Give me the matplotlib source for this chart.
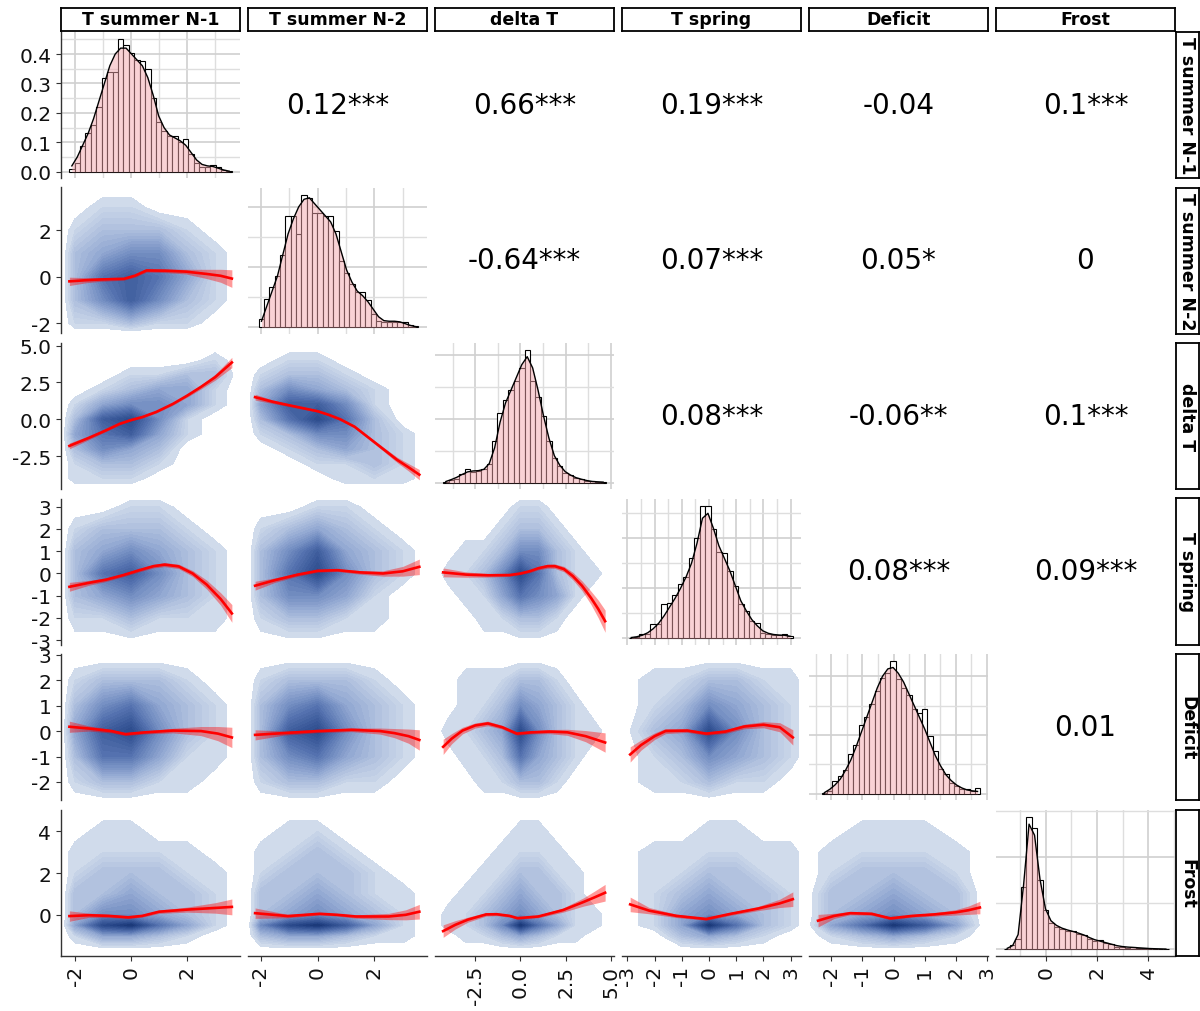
import numpy as np
import matplotlib
matplotlib.use('Agg')
import matplotlib.pyplot as plt
from matplotlib.colors import LinearSegmentedColormap, Normalize
from matplotlib.ticker import AutoMinorLocator

# ---- variables / axes ----
names = ['T summer N-1', 'T summer N-2', 'delta T', 'T spring', 'Deficit', 'Frost']
lims = [(-2.5, 3.89), (-2.45, 3.85), (-4.72, 5.17), (-3.2, 3.38), (-2.71, 3.03), (-1.95, 5.05)]
ticks = [[-2, 0, 2], [-2, 0, 2], [-2.5, 0, 2.5, 5], [-3, -2, -1, 0, 1, 2, 3],
         [-2, -1, 0, 1, 2, 3], [0, 2, 4]]
tick_labels = [['-2', '0', '2'], ['-2', '0', '2'], ['-2.5', '0.0', '2.5', '5.0'],
               ['-3', '-2', '-1', '0', '1', '2', '3'], ['-2', '-1', '0', '1', '2', '3'],
               ['0', '2', '4']]
dens_ticks = [0.0, 0.1, 0.2, 0.3, 0.4]
dens_tick_labels = ['0.0', '0.1', '0.2', '0.3', '0.4']

# ---- diagonal histograms (density) and density curves ----
hist_range = [(-2.21, 3.6), (-2.07, 3.55), (-4.27, 4.72), (-2.96, 3.08), (-2.3, 2.78), (-1.62, 4.8)]
hist_ts1 = [0.009, 0.03, 0.088, 0.13, 0.16, 0.22, 0.32, 0.34, 0.34, 0.45, 0.43, 0.405, 0.38, 0.375, 0.35,
            0.25, 0.17, 0.14, 0.12, 0.12, 0.10, 0.113, 0.06, 0.03, 0.017, 0.017, 0.024, 0.015, 0.007, 0.002]
dens_ts1 = [0.02, 0.05, 0.09, 0.13, 0.18, 0.24, 0.30, 0.36, 0.40, 0.42, 0.42, 0.40, 0.38, 0.36, 0.32,
            0.26, 0.19, 0.15, 0.125, 0.115, 0.105, 0.09, 0.065, 0.04, 0.025, 0.02, 0.018, 0.012, 0.006, 0.002]
hist_ts2 = [0.028, 0.094, 0.133, 0.17, 0.24, 0.37, 0.37, 0.31, 0.44, 0.43, 0.38, 0.38, 0.37, 0.37, 0.32,
            0.22, 0.18, 0.144, 0.117, 0.117, 0.09, 0.044, 0.022, 0.019, 0.019, 0.019, 0.019, 0.017, 0.008, 0.003]
dens_ts2 = [0.02, 0.07, 0.12, 0.17, 0.24, 0.31, 0.36, 0.40, 0.425, 0.43, 0.41, 0.39, 0.37, 0.35, 0.31,
            0.25, 0.19, 0.15, 0.12, 0.105, 0.085, 0.06, 0.035, 0.022, 0.02, 0.02, 0.018, 0.012, 0.006, 0.002]
hist_dt = [0.003, 0.01, 0.012, 0.029, 0.042, 0.033, 0.036, 0.044, 0.06, 0.13, 0.22, 0.26, 0.29, 0.32, 0.36,
           0.415, 0.32, 0.27, 0.21, 0.13, 0.078, 0.054, 0.031, 0.025, 0.016, 0.0125, 0.005, 0.004, 0.003, 0.002]
dens_dt = [0.004, 0.01, 0.017, 0.026, 0.034, 0.037, 0.038, 0.042, 0.06, 0.11, 0.19, 0.25, 0.29, 0.33, 0.37,
           0.395, 0.36, 0.29, 0.21, 0.14, 0.085, 0.055, 0.035, 0.024, 0.016, 0.011, 0.007, 0.004, 0.003, 0.002]
hist_tsp = [0.003, 0.005, 0.016, 0.019, 0.056, 0.056, 0.136, 0.143, 0.172, 0.219, 0.247, 0.32, 0.4, 0.53, 0.53,
            0.436, 0.345, 0.343, 0.27, 0.209, 0.139, 0.109, 0.069, 0.063, 0.023, 0.019, 0.012, 0.012, 0.019, 0.009]
dens_tsp = [0.003, 0.006, 0.012, 0.022, 0.038, 0.06, 0.09, 0.125, 0.16, 0.2, 0.245, 0.3, 0.38, 0.48, 0.5,
            0.44, 0.37, 0.32, 0.27, 0.21, 0.15, 0.11, 0.075, 0.05, 0.03, 0.02, 0.015, 0.013, 0.012, 0.008]
hist_def = [0.003, 0.011, 0.042, 0.062, 0.082, 0.135, 0.166, 0.234, 0.262, 0.307, 0.35, 0.395, 0.412, 0.451, 0.392,
            0.361, 0.335, 0.288, 0.274, 0.29, 0.198, 0.147, 0.085, 0.068, 0.037, 0.028, 0.017, 0.015, 0.008, 0.02]
dens_def = [0.004, 0.015, 0.03, 0.05, 0.08, 0.115, 0.16, 0.21, 0.26, 0.31, 0.36, 0.4, 0.425, 0.43, 0.41,
            0.38, 0.34, 0.3, 0.26, 0.22, 0.175, 0.13, 0.095, 0.065, 0.045, 0.03, 0.02, 0.013, 0.01, 0.008]
hist_frost = [0.004, 0.022, 0.054, 0.34, 0.72, 0.66, 0.377, 0.215, 0.144, 0.122, 0.108, 0.099, 0.099, 0.081, 0.075,
              0.057, 0.045, 0.048, 0.036, 0.027, 0.014, 0.014, 0.009, 0.014, 0.005, 0.007, 0.004, 0.002, 0.002, 0.002]
dens_frost = [0.005, 0.02, 0.08, 0.35, 0.68, 0.62, 0.38, 0.22, 0.155, 0.13, 0.115, 0.105, 0.097, 0.088, 0.078,
              0.064, 0.052, 0.044, 0.036, 0.028, 0.02, 0.015, 0.012, 0.01, 0.008, 0.006, 0.004, 0.003, 0.002, 0.001]
hists = [hist_ts1, hist_ts2, hist_dt, hist_tsp, hist_def, hist_frost]
denss = [dens_ts1, dens_ts2, dens_dt, dens_tsp, dens_def, dens_frost]

# ---- upper triangle correlation labels ----
corr_row1 = ['0.12***', '0.66***', '0.19***', '-0.04', '0.1***']
corr_row2 = ['-0.64***', '0.07***', '0.05*', '0']
corr_row3 = ['0.08***', '-0.06**', '0.1***']
corr_row4 = ['0.08***', '0.09***']
corr_row5 = ['0.01']
corr_rows = [corr_row1, corr_row2, corr_row3, corr_row4, corr_row5]

# ---- lower triangle: point density read on a coarse grid (rows top -> bottom) ----
nodes_ts1 = [-2.45, -2, -1, 0, 1, 2, 3, 3.85]
nodes_ts2 = [-2.45, -2, -1, 0, 1, 2, 3, 3.85]
nodes_dt = [-4.7, -4, -3, -2, -1, 0, 1, 2, 3, 4, 5]
nodes_tsp = [-3.2, -2, -1, 0, 1, 2, 3, 3.6]
nodes_def = [-2.8, -2, -1, 0, 1, 2, 2.9]
nodes_frost = [-1.7, -1, -0.5, 0, 1, 2, 3, 4, 5]
nodes = [nodes_ts1, nodes_ts2, nodes_dt, nodes_tsp, nodes_def, nodes_frost]

dens_21 = ["00000000", "00110000", "01222100", "02344210", "02565310", "02464210", "01121100", "00000000"]
dens_31 = ["00000000", "00000010", "00011220", "00123310", "01344310", "02674100", "03563100",
           "02432000", "01221000", "01110000", "00000000"]
dens_32 = ["00000000", "00110000", "01221000", "02432100", "03664100", "02575200", "01244210",
           "00123210", "00011210", "00001110", "00000000"]
dens_41 = ["00000000", "00011000", "01222100", "02343210", "02564210", "02343210", "01121110", "00000000"]
dens_42 = ["00000000", "00011000", "01232100", "02463210", "02574210", "02443100", "01221100", "00000000"]
dens_43 = ["00000000000", "00000110000", "00001221000", "00112442100", "01124752110", "00113543100",
           "00011221000", "00000000000"]
dens_51 = ["00000000", "01222100", "02453210", "03674210", "02553110", "01221100", "00000000"]
dens_52 = ["00000000", "01222100", "02453210", "02674210", "02453210", "01221100", "00000000"]
dens_53 = ["00000000000", "00111221000", "00112432100", "01123742110", "00112532100", "00011221000",
           "00000000000"]
dens_54 = ["00000000", "01122110", "01243210", "02374210", "01243210", "01121100", "00000000"]
dens_61 = ["00000000", "00110000", "01111100", "01222110", "02232210", "02443210", "03785310",
           "01332100", "00000000"]
dens_62 = ["00000000", "00110000", "01121000", "01222100", "02232110", "02343210", "04786310",
           "02332110", "00000000"]
dens_63 = ["00000000000", "00000110000", "00001111000", "00011221100", "00112322100", "01123432110",
           "01124853110", "00112321100", "00000000000"]
dens_64 = ["00000000", "00011000", "01111110", "01122110", "01232210", "01343210", "01385210",
           "00232100", "00000000"]
dens_65 = ["0000000", "0011100", "0111110", "0122210", "0223220", "0234320", "0358630", "0123210",
           "0000000"]

# ---- loess smooth lines with confidence half-widths ----
sm21_x = [-2.2, -1.6, -1.1, -0.6, -0.25, 0.15, 0.55, 1.2, 1.95, 2.7, 3.2, 3.6]
sm21_y = [-0.2, -0.15, -0.12, -0.1, -0.09, 0.05, 0.27, 0.26, 0.22, 0.12, 0.04, -0.08]
sm21_ci = [0.18, 0.11, 0.08, 0.07, 0.06, 0.06, 0.07, 0.08, 0.1, 0.2, 0.28, 0.38]
sm31_x = [-2.2, -1.5, -0.9, -0.4, 0.0, 0.4, 0.9, 1.5, 2.0, 2.5, 3.0, 3.6]
sm31_y = [-1.8, -1.25, -0.75, -0.3, -0.05, 0.15, 0.5, 1.05, 1.6, 2.2, 2.85, 3.85]
sm31_ci = [0.2, 0.12, 0.08, 0.07, 0.06, 0.06, 0.07, 0.08, 0.1, 0.14, 0.2, 0.35]
sm32_x = [-2.2, -1.6, -1.0, -0.5, 0.0, 0.4, 0.8, 1.3, 1.8, 2.3, 2.8, 3.2, 3.58]
sm32_y = [1.5, 1.2, 0.95, 0.75, 0.55, 0.3, 0.0, -0.5, -1.25, -2.0, -2.75, -3.25, -3.75]
sm32_ci = [0.2, 0.12, 0.08, 0.07, 0.06, 0.07, 0.08, 0.09, 0.1, 0.13, 0.18, 0.25, 0.35]
sm41_x = [-2.2, -1.5, -0.9, -0.3, 0.3, 0.8, 1.2, 1.7, 2.2, 2.7, 3.2, 3.6]
sm41_y = [-0.6, -0.42, -0.28, -0.08, 0.15, 0.33, 0.4, 0.32, 0.0, -0.5, -1.15, -1.8]
sm41_ci = [0.2, 0.11, 0.08, 0.07, 0.07, 0.08, 0.09, 0.1, 0.13, 0.2, 0.28, 0.4]
sm42_x = [-2.2, -1.5, -0.7, 0.0, 0.7, 1.5, 2.3, 3.0, 3.58]
sm42_y = [-0.55, -0.3, -0.05, 0.12, 0.15, 0.05, 0.0, 0.1, 0.3]
sm42_ci = [0.2, 0.1, 0.07, 0.06, 0.06, 0.08, 0.12, 0.22, 0.35]
sm43_x = [-4.27, -3.0, -1.8, -0.6, 0.0, 0.5, 1.0, 1.5, 1.9, 2.4, 2.9, 3.4, 3.9, 4.3, 4.68]
sm43_y = [0.05, -0.05, -0.08, -0.07, 0.0, 0.1, 0.24, 0.33, 0.33, 0.2, -0.12, -0.55, -1.1, -1.6, -2.15]
sm43_ci = [0.2, 0.12, 0.08, 0.06, 0.05, 0.06, 0.07, 0.09, 0.1, 0.12, 0.17, 0.22, 0.3, 0.4, 0.5]
sm51_x = [-2.2, -1.5, -0.7, -0.2, 0.5, 1.5, 2.5, 3.1, 3.6]
sm51_y = [0.17, 0.1, 0.0, -0.12, -0.05, 0.02, 0.0, -0.1, -0.25]
sm51_ci = [0.22, 0.1, 0.07, 0.06, 0.06, 0.09, 0.18, 0.28, 0.4]
sm52_x = [-2.2, -1.2, 0.0, 1.2, 2.2, 2.7, 3.2, 3.58]
sm52_y = [-0.15, -0.08, 0.0, 0.05, 0.0, -0.08, -0.2, -0.35]
sm52_ci = [0.2, 0.08, 0.06, 0.07, 0.12, 0.18, 0.28, 0.4]
sm53_x = [-4.27, -3.8, -3.2, -2.5, -1.8, -1.0, -0.2, 0.6, 1.6, 2.6, 3.6, 4.68]
sm53_y = [-0.62, -0.3, 0.02, 0.22, 0.3, 0.15, -0.1, -0.05, -0.02, -0.05, -0.2, -0.45]
sm53_ci = [0.3, 0.2, 0.13, 0.1, 0.09, 0.07, 0.06, 0.06, 0.08, 0.12, 0.22, 0.38]
sm54_x = [-2.9, -2.5, -2.0, -1.6, -0.8, -0.1, 0.6, 1.3, 2.0, 2.6, 3.08]
sm54_y = [-0.92, -0.55, -0.2, 0.0, 0.02, -0.1, -0.02, 0.18, 0.25, 0.15, -0.25]
sm54_ci = [0.3, 0.2, 0.13, 0.1, 0.07, 0.06, 0.07, 0.09, 0.12, 0.18, 0.3]
sm61_x = [-2.2, -1.5, -0.8, -0.1, 0.4, 1.0, 2.0, 3.0, 3.6]
sm61_y = [-0.06, -0.02, -0.05, -0.12, -0.05, 0.15, 0.25, 0.33, 0.38]
sm61_ci = [0.25, 0.1, 0.07, 0.06, 0.06, 0.08, 0.12, 0.25, 0.38]
sm62_x = [-2.2, -1.05, 0.07, 0.7, 1.35, 2.5, 3.1, 3.58]
sm62_y = [0.08, -0.06, 0.05, 0.0, -0.08, -0.08, 0.0, 0.15]
sm62_ci = [0.25, 0.08, 0.06, 0.06, 0.08, 0.15, 0.24, 0.35]
sm63_x = [-4.27, -3.6, -2.9, -1.9, -1.31, -0.6, -0.16, 0.98, 2.36, 3.5, 4.1, 4.68]
sm63_y = [-0.78, -0.48, -0.23, 0.02, 0.03, -0.05, -0.16, -0.08, 0.23, 0.62, 0.84, 1.06]
sm63_ci = [0.3, 0.2, 0.12, 0.08, 0.07, 0.06, 0.05, 0.06, 0.1, 0.2, 0.3, 0.4]
sm64_x = [-2.9, -2.2, -1.2, -0.1, 0.8, 1.8, 2.6, 3.08]
sm64_y = [0.5, 0.2, -0.05, -0.2, 0.05, 0.3, 0.55, 0.75]
sm64_ci = [0.35, 0.15, 0.08, 0.06, 0.07, 0.1, 0.2, 0.35]
sm65_x = [-2.42, -1.9, -1.39, -0.7, -0.1, 0.6, 1.3, 2.0, 2.4, 2.77]
sm65_y = [-0.28, -0.05, 0.08, 0.05, -0.17, -0.05, 0.02, 0.12, 0.22, 0.35]
sm65_ci = [0.3, 0.12, 0.08, 0.07, 0.06, 0.06, 0.08, 0.13, 0.2, 0.3]

lower = {
    (1, 0): (dens_21, sm21_x, sm21_y, sm21_ci),
    (2, 0): (dens_31, sm31_x, sm31_y, sm31_ci),
    (2, 1): (dens_32, sm32_x, sm32_y, sm32_ci),
    (3, 0): (dens_41, sm41_x, sm41_y, sm41_ci),
    (3, 1): (dens_42, sm42_x, sm42_y, sm42_ci),
    (3, 2): (dens_43, sm43_x, sm43_y, sm43_ci),
    (4, 0): (dens_51, sm51_x, sm51_y, sm51_ci),
    (4, 1): (dens_52, sm52_x, sm52_y, sm52_ci),
    (4, 2): (dens_53, sm53_x, sm53_y, sm53_ci),
    (4, 3): (dens_54, sm54_x, sm54_y, sm54_ci),
    (5, 0): (dens_61, sm61_x, sm61_y, sm61_ci),
    (5, 1): (dens_62, sm62_x, sm62_y, sm62_ci),
    (5, 2): (dens_63, sm63_x, sm63_y, sm63_ci),
    (5, 3): (dens_64, sm64_x, sm64_y, sm64_ci),
    (5, 4): (dens_65, sm65_x, sm65_y, sm65_ci),
}

# ---- layout (pixels) ----
W, H = 1200, 1012
col_x = [61, 248, 435, 622, 809, 996]
row_y = [33, 188.5, 344, 499.5, 655, 810.5]
pw, ph = 179, 146

blues = LinearSegmentedColormap.from_list(
    'pd', ['#d6e0ee', '#b9c8e2', '#97acd4', '#7690c3', '#5673b0', '#3c5b9b', '#264587', '#112e6b'])
bnorm = Normalize(0.5, 8.5)
levels = np.concatenate([[0.5], np.arange(1.0, 8.51, 0.25)])

plt.rcParams['font.family'] = 'DejaVu Sans'
fig = plt.figure(figsize=(W / 100, H / 100), dpi=100)


def px_axes(x, y, w, h):
    return fig.add_axes([x / W, 1 - (y + h) / H, w / W, h / H])


for i in range(6):
    for j in range(6):
        ax = px_axes(col_x[j], row_y[i], pw, ph)
        if i < j:
            ax.axis('off')
            ax.text(0.5, 0.5, corr_rows[i][j - i - 1], ha='center', va='center',
                    fontsize=20, color='black', transform=ax.transAxes)
            continue
        ax.set_xlim(lims[j])
        ax.set_xticks(ticks[j], labels=tick_labels[j])
        if i == j:
            lo, hi = hist_range[j]
            h = np.array(hists[j])
            edges = np.linspace(lo, hi, len(h) + 1)
            mids = (edges[:-1] + edges[1:]) / 2
            d = np.array(denss[j])
            ax.bar(edges[:-1], h, width=np.diff(edges), align='edge', facecolor='white',
                   edgecolor='black', linewidth=0.8, zorder=2)
            ax.fill_between(mids, 0, d, color='#f4a6ad', alpha=0.5, lw=0, zorder=3)
            ax.plot(mids, d, color='black', lw=1.0, zorder=4)
            m = max(h.max(), d.max())
            ax.set_ylim(-0.047 * m, 1.055 * m)
            if i == 0:
                ax.set_yticks(dens_ticks, labels=dens_tick_labels)
            ax.xaxis.set_minor_locator(AutoMinorLocator(2))
            ax.yaxis.set_minor_locator(AutoMinorLocator(2))
            ax.set_axisbelow(True)
            ax.grid(True, which='major', color='#d0d0d0', lw=1.2)
            ax.grid(True, which='minor', color='#dedede', lw=1.0)
        else:
            ax.set_ylim(lims[i])
            ax.set_yticks(ticks[i], labels=tick_labels[i])
            grid, sx, sy, sci = lower[(i, j)]
            Z = np.array([[int(c) for c in row] for row in grid[::-1]], dtype=float)
            X, Y = np.meshgrid(nodes[j], nodes[i])
            ax.contourf(X, Y, Z, levels=levels, cmap=blues, norm=bnorm, zorder=1)
            sx, sy, sci = np.array(sx), np.array(sy), np.array(sci)
            ax.fill_between(sx, sy - sci, sy + sci, color='#ff0000', alpha=0.4, lw=0, zorder=3)
            ax.plot(sx, sy, color='#ff0000', lw=1.9, zorder=4, solid_joinstyle='round')
        for s in ['top', 'right']:
            ax.spines[s].set_visible(False)
        ax.spines['left'].set_visible(j == 0)
        ax.spines['bottom'].set_visible(i == 5)
        for s in ['left', 'bottom']:
            ax.spines[s].set_color('#333333')
            ax.spines[s].set_linewidth(1.0)
        ax.tick_params(axis='y', which='major', left=(j == 0), labelleft=(j == 0),
                       length=3.5, color='#333333', labelsize=14.5, labelcolor='#111111')
        ax.tick_params(axis='x', which='major', bottom=(i == 5), labelbottom=(i == 5),
                       length=3.5, color='#333333', labelsize=14.5, labelcolor='#111111',
                       labelrotation=90)
        ax.tick_params(which='minor', length=0)

# strips
for j in range(6):
    sa = px_axes(col_x[j], 8.5, pw, 23.5)
    sa.set_xticks([])
    sa.set_yticks([])
    for s in sa.spines.values():
        s.set_linewidth(1.3)
        s.set_color('black')
    sa.text(0.5, 0.5, names[j], ha='center', va='center', fontsize=12.5, fontweight='bold',
            transform=sa.transAxes)
for i in range(6):
    sa = px_axes(1176, row_y[i], 23, ph)
    sa.set_xticks([])
    sa.set_yticks([])
    for s in sa.spines.values():
        s.set_linewidth(1.3)
        s.set_color('black')
    sa.text(0.5, 0.5, names[i], ha='center', va='center', fontsize=12.5, fontweight='bold',
            rotation=270, transform=sa.transAxes)

fig.savefig('out.png', dpi=100)
